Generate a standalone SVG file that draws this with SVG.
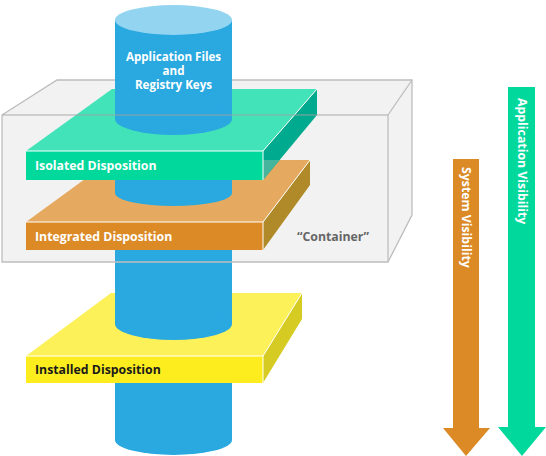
<svg xmlns="http://www.w3.org/2000/svg" width="546" height="456" viewBox="0 0 546 456">
<style>
.edge{stroke:#ffffff;stroke-width:1;fill:none}
.cyl{fill:#29a9e0}
.lbl{font-family:"Open Sans","Liberation Sans",sans-serif;font-weight:700;font-size:12.3px}
.box{fill:none;stroke:#bdbdbd;stroke-width:1.3}
</style>
<rect width="546" height="456" fill="#ffffff"/>
<g id="container-back">
<polygon points="2,115 57,80 412,80 412,215 388,262 2,262" fill="#f2f2f2"/>
<polyline class="box" points="2,115 57,80 412,80 412,215 388,262"/>
</g>
<g id="installed">
<polygon points="26,356 111,293 302,293 263,356" fill="#fdf15a"/>
<rect class="cyl" x="115" y="250" width="117" height="74"/>
<ellipse class="cyl" cx="173.5" cy="324" rx="58.5" ry="16"/>
<rect class="cyl" x="115" y="370" width="117" height="70"/>
<ellipse class="cyl" cx="173.5" cy="440" rx="58.5" ry="15"/>
<polygon points="263,356 302,293 302,319 263,383" fill="#d5cb22"/>
<rect x="26" y="356" width="237" height="27" fill="#fded1f"/>
<polyline class="edge" points="26,356 263,356 302,293"/>
<line class="edge" x1="263" y1="356" x2="263" y2="383"/>
<text class="lbl" x="35" y="374" fill="#1a1a1a">Installed Disposition</text>
</g>
<g id="integrated">
<polygon points="26,222 111,160 310,160 263,222" fill="#e5aa60"/>
<rect class="cyl" x="115" y="170" width="117" height="23"/>
<ellipse class="cyl" cx="173.5" cy="193" rx="58.5" ry="13"/>
<polygon points="263,222 310,160 310,185 263,250" fill="#b08a28"/>
<rect x="26" y="222" width="237" height="28" fill="#db8a26"/>
<polyline class="edge" points="26,222 263,222 310,160"/>
<line class="edge" x1="263" y1="222" x2="263" y2="250"/>
<text class="lbl" x="35" y="241" fill="#ffffff">Integrated Disposition</text>
</g>
<g id="app-files">
<polygon points="26,151 112,89 317,89 263,151" fill="#42e3b8"/>
<rect class="cyl" x="115" y="20" width="117" height="99"/>
<ellipse class="cyl" cx="173.5" cy="119" rx="58.5" ry="16"/>
<ellipse cx="173.5" cy="20" rx="58.5" ry="15" fill="#93d4f1"/>
<text class="lbl" fill="#ffffff" text-anchor="middle" style="font-size:11.6px"><tspan x="173.5" y="61">Application Files</tspan><tspan x="173.5" y="75">and</tspan><tspan x="173.5" y="89">Registry Keys</tspan></text>
</g>
<g id="isolated">
<polygon points="263,151 317,89 317,115 263,180" fill="#00aa8e"/>
<polygon points="263,160 279.6,160 263,180" fill="#45b59e"/>
<rect x="26" y="151" width="237" height="29" fill="#00d89c"/>
<polyline class="edge" points="26,151 263,151 317,89"/>
<line class="edge" x1="263" y1="151" x2="263" y2="180"/>
<text class="lbl" x="35" y="170" fill="#ffffff">Isolated Disposition</text>
</g>
<g id="container-front">
<line x1="2" y1="115" x2="388" y2="115" stroke="#a0a0a0" stroke-opacity="0.6" stroke-width="1.3"/>
<line class="box" x1="388" y1="115" x2="412" y2="80"/>
<polyline class="box" points="388,115 388,262 2,262 2,115"/>
<text class="lbl" x="297" y="241" fill="#666666">“Container”</text>
</g>
<g id="system-visibility">
<polygon points="453,159 479,159 479,428 490,428 466,456 443,428 453,428" fill="#db8a26"/>
<text class="lbl" transform="translate(462,167) rotate(90)" fill="#ffffff">System Visibility</text>
</g>
<g id="application-visibility">
<polygon points="508,87 535,87 535,427 546,427 522,456 498,427 508,427" fill="#00d89c"/>
<text class="lbl" transform="translate(517.5,98) rotate(90)" fill="#ffffff">Application Visibility</text>
</g>
</svg>
